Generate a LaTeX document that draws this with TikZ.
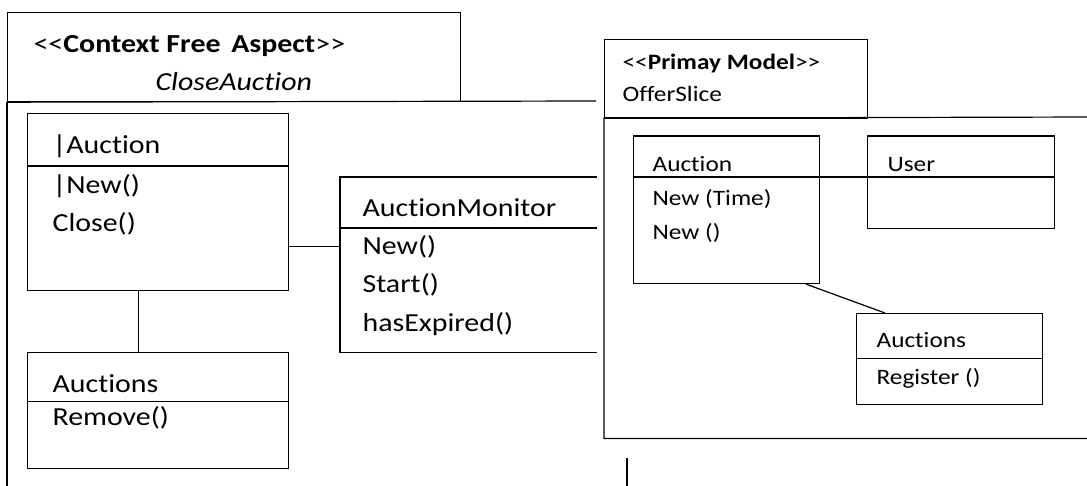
\documentclass[tikz,border=0pt]{standalone}
\usepackage{fontspec}
\setmainfont{Carlito}[FakeStretch=1.15, Ligatures={NoCommon}]
\newcommand\lfont{\fontsize{26}{30}\selectfont}
\newcommand\rfont{\fontsize{22}{26}\selectfont}
\begin{document}
\begin{tikzpicture}[x=1pt,y=-1pt, line width=1.2pt,
  box/.style={draw, rectangle, inner sep=0pt, anchor=north west},
  ghost/.style={rectangle, inner sep=0pt, anchor=north west},
  ltxt/.style={anchor=base west, inner sep=0pt, font=\lfont},
  rtxt/.style={anchor=base west, inner sep=0pt, font=\rfont}]
\useasboundingbox (0,0) rectangle (1087,486);
\clip (0,0) rectangle (1087,486);

% ---------- left package ----------
\node[box, minimum width=453pt, minimum height=89pt] (lpk) at (7,12) {};
\coordinate (lend) at (596,101);
\coordinate (lbot) at (7,490);
\draw (lpk.south west) -- (lend);
\draw (lpk.south west) -- (lbot);
\node[ltxt] (lst) at (33,53) {<{}<\textbf{Context Free\kern4pt\ Aspect}>{}>};
\node[ltxt] (lname) at (155,90.5) {\textit{CloseAuction}};

% Auction (left)
\node[box, minimum width=261pt, minimum height=177pt] (auc) at (27,113) {};
\draw ([yshift=-53pt]auc.north west) -- ([yshift=-53pt]auc.north east);
\node[ltxt] (auct) at (52,154) {|Auction};
\node[ltxt] (aucm1) at (52,194) {|New()};
\node[ltxt] (aucm2) at (52,231.5) {Close()};

% AuctionMonitor
\node[ghost, minimum width=256pt, minimum height=174pt] (mon) at (340,177) {};
\draw (mon.north east) -- (mon.north west) -- (mon.south west) -- (mon.south east);
\draw ([yshift=-51pt]mon.north west) -- ([yshift=-51pt]mon.north east);
\node[ltxt] (mont) at (362,216.7) {AuctionMonitor};
\node[ltxt] (monm1) at (362,255) {New()};
\node[ltxt] (monm2) at (362,293) {Start()};
\node[ltxt] (monm3) at (362,331) {hasExpired()};

% Auctions (left)
\node[box, minimum width=261pt, minimum height=116.5pt] (aucs) at (27,351.5) {};
\draw ([yshift=-50pt]aucs.north west) -- ([yshift=-50pt]aucs.north east);
\node[ltxt] (aucst) at (52,392.5) {Auctions};
\node[ltxt] (aucsm) at (52,425.5) {Remove()};

% connectors (left)
\coordinate (c1) at ([yshift=-44.5pt]auc.east);
\draw (c1) -- (c1 -| mon.west);
\coordinate (c2) at ([xshift=-19.5pt]auc.south);
\draw (c2) -- (c2 |- aucs.north);

% ---------- right package ----------
\node[box, minimum width=263pt, minimum height=78pt] (rpk) at (604,39) {};
\coordinate (rtr) at (1095,117);
\coordinate (rbr) at (1095,438.5);
\coordinate (rbl) at (604,438.5);
\draw (rtr) -- (rpk.south west) -- (rbl) -- (rbr);
\draw[line width=2.2pt] (rpk.south west) -- (rpk.south east);
\node[rtxt] (rst) at (622,70) {<{}<\textbf{Primay Model}>{}>};
\node[rtxt] (rname) at (622,101.5) {OfferSlice};

% Auction (right)
\node[box, minimum width=186.5pt, minimum height=147.5pt] (auc2) at (632.5,135.5) {};
\draw ([yshift=-41.5pt]auc2.north west) -- ([yshift=-41.5pt]auc2.north east);
\node[rtxt] (auc2t) at (652,171.7) {Auction};
\node[rtxt] (auc2m1) at (652,206) {New (Time)};
\node[rtxt] (auc2m2) at (652,240) {New ()};

% User
\node[box, minimum width=187pt, minimum height=92.5pt] (user) at (867,135.5) {};
\draw ([yshift=-41.5pt]user.north west) -- ([yshift=-41.5pt]user.north east);
\node[rtxt] (usert) at (887,171.7) {User};

% Auctions (right)
\node[box, minimum width=186pt, minimum height=91pt] (auc3) at (856,313) {};
\draw ([yshift=-45.5pt]auc3.north west) -- ([yshift=-45.5pt]auc3.north east);
\node[rtxt] (auc3t) at (876,348) {Auctions};
\node[rtxt] (auc3m) at (876,384) {Register ()};

% connectors (right)
\coordinate (c3) at ([yshift=-41.5pt]auc2.north east);
\draw (c3) -- (c3 -| user.west);
\draw ([xshift=-14pt]auc2.south east) -- ([xshift=29pt]auc3.north west);

% stray line below
\coordinate (s1) at (627,458);
\coordinate (s2) at (627,490);
\draw (s1) -- (s2);
\end{tikzpicture}
\end{document}
